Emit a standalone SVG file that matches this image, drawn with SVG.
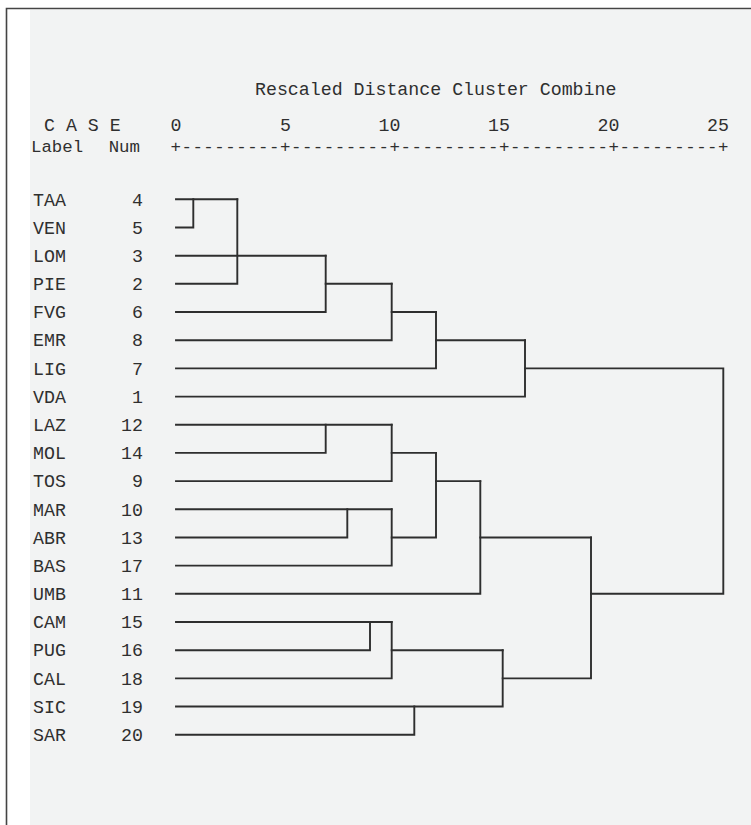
<svg xmlns="http://www.w3.org/2000/svg" width="751" height="825" viewBox="0 0 751 825">
<style>
text{font-family:"Liberation Mono","DejaVu Sans Mono",monospace;font-size:18.25px;fill:#2f2f2f}
.num{text-anchor:end}
.ax{text-anchor:end}
.sub{font-size:17.4px}
#connectors path{fill:none;stroke:#2e2e2e;stroke-width:1.9;stroke-linecap:square;stroke-linejoin:miter}
</style>
<rect x="0" y="0" width="751" height="825" fill="#ffffff"/>
<rect x="30" y="10" width="721" height="815" fill="#f2f3f3"/>
<path d="M6.5,825 V8.5 H751" fill="none" stroke="#444" stroke-width="1.6"/>
<g id="header">
<text x="255" y="95">Rescaled Distance Cluster Combine</text>
<text x="44" y="131">C A S E</text>
<text x="181.5" y="131" class="ax">0</text>
<text x="291" y="131" class="ax">5</text>
<text x="400.5" y="131" class="ax">10</text>
<text x="510" y="131" class="ax">15</text>
<text x="619.5" y="131" class="ax">20</text>
<text x="729" y="131" class="ax">25</text>
<text x="31" y="152" class="sub">Label</text>
<text x="140" y="152" class="num sub">Num</text>
<text x="170.5" y="152" class="sub" textLength="558" lengthAdjust="spacing">+---------+---------+---------+---------+---------+</text>
</g>
<g id="leaf-TAA"><text x="33" y="205.5">TAA</text><text x="143" y="205.5" class="num">4</text></g>
<g id="leaf-VEN"><text x="33" y="233.7">VEN</text><text x="143" y="233.7" class="num">5</text></g>
<g id="leaf-LOM"><text x="33" y="261.9">LOM</text><text x="143" y="261.9" class="num">3</text></g>
<g id="leaf-PIE"><text x="33" y="290">PIE</text><text x="143" y="290" class="num">2</text></g>
<g id="leaf-FVG"><text x="33" y="318.2">FVG</text><text x="143" y="318.2" class="num">6</text></g>
<g id="leaf-EMR"><text x="33" y="346.4">EMR</text><text x="143" y="346.4" class="num">8</text></g>
<g id="leaf-LIG"><text x="33" y="374.6">LIG</text><text x="143" y="374.6" class="num">7</text></g>
<g id="leaf-VDA"><text x="33" y="402.8">VDA</text><text x="143" y="402.8" class="num">1</text></g>
<g id="leaf-LAZ"><text x="33" y="430.9">LAZ</text><text x="143" y="430.9" class="num">12</text></g>
<g id="leaf-MOL"><text x="33" y="459.1">MOL</text><text x="143" y="459.1" class="num">14</text></g>
<g id="leaf-TOS"><text x="33" y="487.3">TOS</text><text x="143" y="487.3" class="num">9</text></g>
<g id="leaf-MAR"><text x="33" y="515.5">MAR</text><text x="143" y="515.5" class="num">10</text></g>
<g id="leaf-ABR"><text x="33" y="543.7">ABR</text><text x="143" y="543.7" class="num">13</text></g>
<g id="leaf-BAS"><text x="33" y="571.8">BAS</text><text x="143" y="571.8" class="num">17</text></g>
<g id="leaf-UMB"><text x="33" y="600">UMB</text><text x="143" y="600" class="num">11</text></g>
<g id="leaf-CAM"><text x="33" y="628.2">CAM</text><text x="143" y="628.2" class="num">15</text></g>
<g id="leaf-PUG"><text x="33" y="656.4">PUG</text><text x="143" y="656.4" class="num">16</text></g>
<g id="leaf-CAL"><text x="33" y="684.6">CAL</text><text x="143" y="684.6" class="num">18</text></g>
<g id="leaf-SIC"><text x="33" y="712.7">SIC</text><text x="143" y="712.7" class="num">19</text></g>
<g id="leaf-SAR"><text x="33" y="740.9">SAR</text><text x="143" y="740.9" class="num">20</text></g>
<g id="connectors">
<path d="M176,199.3 H237.3"/>
<path d="M176,227.5 H193.3 V199.3"/>
<path d="M176,283.8 H237.3 V199.3"/>
<path d="M176,255.7 H325.7"/>
<path d="M176,312 H325.7 V255.7"/>
<path d="M325.7,283.8 H391.7"/>
<path d="M176,340.2 H391.7 V283.8"/>
<path d="M391.7,312 H436"/>
<path d="M176,368.4 H436 V312"/>
<path d="M436,340.2 H525"/>
<path d="M176,396.6 H525 V340.2"/>
<path d="M525,368.4 H723.3 V593.8 H591"/>
<path d="M176,424.7 H391.7"/>
<path d="M176,452.9 H325.7 V424.7"/>
<path d="M176,481.1 H391.7 V424.7"/>
<path d="M391.7,452.9 H436"/>
<path d="M176,509.3 H391.7"/>
<path d="M176,537.5 H347.3 V509.3"/>
<path d="M176,565.6 H391.7 V509.3"/>
<path d="M391.7,537.5 H436 V452.9"/>
<path d="M436,481.1 H480.3"/>
<path d="M176,593.8 H480.3 V481.1"/>
<path d="M480.3,537.5 H591"/>
<path d="M176,622 H391.7"/>
<path d="M176,650.2 H370 V622"/>
<path d="M176,678.4 H391.7 V622"/>
<path d="M391.7,650.2 H502.7"/>
<path d="M176,706.5 H502.7 V650.2"/>
<path d="M176,734.7 H414.3 V706.5"/>
<path d="M502.7,678.4 H591 V537.5"/>
</g>
</svg>
